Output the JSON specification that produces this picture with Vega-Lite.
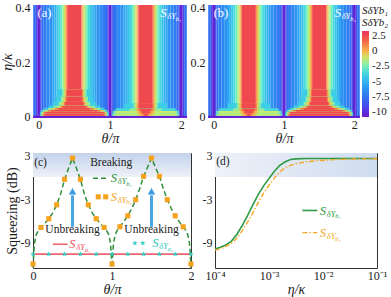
{
"$schema":"https://vega.github.io/schema/vega-lite/v6.json",
"padding":{"left":0,"top":1,"right":0,"bottom":0},
"config":{
 "font":"Liberation Serif",
 "view":{"stroke":null},
 "axis":{"labelFont":"Liberation Serif","titleFont":"Liberation Serif","labelFontSize":12,"titleFontSize":14,"titleFontWeight":"normal","labelColor":"#1a1a1a","titleColor":"#1a1a1a","grid":false,"domain":false,"ticks":false,"labelPadding":3,"titlePadding":1,"labelFlush":false,"labelOverlap":false},
 "axisX":{"labelPadding":1,"titlePadding":1},
 "legend":{"labelFont":"Liberation Serif","titleFont":"Liberation Serif"},
 "text":{"font":"Liberation Serif"}
},
"datasets":{
"base":[
{"a":-0.08,"b":-0.07,"v":-7.2},{"a":-0.07,"b":-0.04,"v":-7.8},{"a":-0.04,"b":-0.02,"v":-9.0},{"a":-0.02,"b":0.02,"v":-10.5},
{"a":0.02,"b":0.04,"v":-9.0},{"a":0.04,"b":0.07,"v":-7.8},{"a":0.07,"b":0.11,"v":-7.2},{"a":0.11,"b":0.15,"v":-6.7},{"a":0.15,"b":0.19,"v":-6.2},{"a":0.19,"b":0.22,"v":-5.6},{"a":0.22,"b":0.25,"v":-5.0},{"a":0.25,"b":0.28,"v":-4.3},{"a":0.28,"b":0.31,"v":-3.5},{"a":0.31,"b":0.335,"v":-2.6},{"a":0.335,"b":0.355,"v":-1.7},{"a":0.355,"b":0.37,"v":-0.9},{"a":0.37,"b":0.385,"v":-0.1},{"a":0.385,"b":0.4,"v":1.0},
{"a":0.4,"b":0.6,"v":2.5},
{"a":0.6,"b":0.615,"v":1.0},{"a":0.615,"b":0.63,"v":-0.1},{"a":0.63,"b":0.645,"v":-0.9},{"a":0.645,"b":0.665,"v":-1.7},{"a":0.665,"b":0.69,"v":-2.6},{"a":0.69,"b":0.72,"v":-3.5},{"a":0.72,"b":0.75,"v":-4.3},{"a":0.75,"b":0.78,"v":-5.0},{"a":0.78,"b":0.81,"v":-5.6},{"a":0.81,"b":0.85,"v":-6.2},{"a":0.85,"b":0.89,"v":-6.7},{"a":0.89,"b":0.93,"v":-7.2},{"a":0.93,"b":0.96,"v":-7.8},{"a":0.96,"b":0.98,"v":-9.0},
{"a":0.98,"b":1.02,"v":-10.5},
{"a":1.02,"b":1.04,"v":-9.0},{"a":1.04,"b":1.07,"v":-7.8},{"a":1.07,"b":1.11,"v":-7.2},{"a":1.11,"b":1.15,"v":-6.7},{"a":1.15,"b":1.19,"v":-6.2},{"a":1.19,"b":1.22,"v":-5.6},{"a":1.22,"b":1.25,"v":-5.0},{"a":1.25,"b":1.28,"v":-4.3},{"a":1.28,"b":1.31,"v":-3.5},{"a":1.31,"b":1.335,"v":-2.6},{"a":1.335,"b":1.355,"v":-1.7},{"a":1.355,"b":1.37,"v":-0.9},{"a":1.37,"b":1.385,"v":-0.1},{"a":1.385,"b":1.4,"v":1.0},
{"a":1.4,"b":1.6,"v":2.5},
{"a":1.6,"b":1.615,"v":1.0},{"a":1.615,"b":1.63,"v":-0.1},{"a":1.63,"b":1.645,"v":-0.9},{"a":1.645,"b":1.665,"v":-1.7},{"a":1.665,"b":1.69,"v":-2.6},{"a":1.69,"b":1.72,"v":-3.5},{"a":1.72,"b":1.75,"v":-4.3},{"a":1.75,"b":1.78,"v":-5.0},{"a":1.78,"b":1.81,"v":-5.6},{"a":1.81,"b":1.85,"v":-6.2},{"a":1.85,"b":1.89,"v":-6.7},{"a":1.89,"b":1.93,"v":-7.2},{"a":1.93,"b":1.96,"v":-7.8},{"a":1.96,"b":1.98,"v":-9.0},
{"a":1.98,"b":2.02,"v":-10.5},
{"a":2.02,"b":2.04,"v":-9.0},{"a":2.04,"b":2.07,"v":-7.8},{"a":2.07,"b":2.08,"v":-7.2}
],
"ova":[
{"a":-0.08,"b":2.08,"lo":-0.004,"hi":0.004,"v":-10.5},
{"a":0.015,"b":0.985,"lo":0.004,"hi":0.012,"v":-4},{"a":0.03,"b":0.97,"lo":0.004,"hi":0.012,"v":-2},{"a":0.045,"b":0.955,"lo":0.004,"hi":0.012,"v":-0.5},{"a":0.06,"b":0.94,"lo":0.004,"hi":0.012,"v":1.2},{"a":0.08,"b":0.92,"lo":0.004,"hi":0.012,"v":2.5},
{"a":0.02,"b":0.98,"lo":0.012,"hi":0.02,"v":-4},{"a":0.035,"b":0.965,"lo":0.012,"hi":0.02,"v":-2},{"a":0.05,"b":0.95,"lo":0.012,"hi":0.02,"v":-0.5},{"a":0.07,"b":0.93,"lo":0.012,"hi":0.02,"v":1.2},{"a":0.09,"b":0.91,"lo":0.012,"hi":0.02,"v":2.5},
{"a":0.04,"b":0.96,"lo":0.02,"hi":0.026,"v":-4},{"a":0.06,"b":0.94,"lo":0.02,"hi":0.026,"v":-2},{"a":0.09,"b":0.91,"lo":0.02,"hi":0.026,"v":-0.5},{"a":0.13,"b":0.87,"lo":0.02,"hi":0.026,"v":1.2},{"a":0.17,"b":0.83,"lo":0.02,"hi":0.026,"v":2.5},
{"a":0.08,"b":0.92,"lo":0.026,"hi":0.033,"v":-4},{"a":0.13,"b":0.87,"lo":0.026,"hi":0.033,"v":-2},{"a":0.18,"b":0.82,"lo":0.026,"hi":0.033,"v":-0.5},{"a":0.23,"b":0.77,"lo":0.026,"hi":0.033,"v":1.2},{"a":0.28,"b":0.72,"lo":0.026,"hi":0.033,"v":2.5},
{"a":0.14,"b":0.86,"lo":0.033,"hi":0.042,"v":-4},{"a":0.21,"b":0.79,"lo":0.033,"hi":0.042,"v":-2},{"a":0.27,"b":0.73,"lo":0.033,"hi":0.042,"v":-0.5},{"a":0.31,"b":0.69,"lo":0.033,"hi":0.042,"v":1.2},{"a":0.34,"b":0.66,"lo":0.033,"hi":0.042,"v":2.5},
{"a":0.2,"b":0.8,"lo":0.042,"hi":0.055,"v":-4},{"a":0.28,"b":0.72,"lo":0.042,"hi":0.055,"v":-2},{"a":0.32,"b":0.68,"lo":0.042,"hi":0.055,"v":-0.5},{"a":0.355,"b":0.645,"lo":0.042,"hi":0.055,"v":1.2},{"a":0.37,"b":0.63,"lo":0.042,"hi":0.055,"v":2.5},
{"a":0.24,"b":0.76,"lo":0.055,"hi":0.075,"v":-4},{"a":0.31,"b":0.69,"lo":0.055,"hi":0.075,"v":-2},{"a":0.345,"b":0.655,"lo":0.055,"hi":0.075,"v":-0.5},{"a":0.375,"b":0.625,"lo":0.055,"hi":0.075,"v":1.2},{"a":0.39,"b":0.61,"lo":0.055,"hi":0.075,"v":2.5},
{"a":0.26,"b":0.74,"lo":0.075,"hi":0.1,"v":-4},{"a":0.33,"b":0.67,"lo":0.075,"hi":0.1,"v":-2},{"a":0.36,"b":0.64,"lo":0.075,"hi":0.1,"v":-0.5},{"a":0.38,"b":0.62,"lo":0.075,"hi":0.1,"v":1.2},{"a":0.395,"b":0.605,"lo":0.075,"hi":0.1,"v":2.5},
{"a":1.03,"b":1.97,"lo":0.004,"hi":0.012,"v":-2.5},{"a":1.06,"b":1.94,"lo":0.004,"hi":0.012,"v":-1.2},{"a":1.4,"b":1.6,"lo":0.004,"hi":0.012,"v":0},{"a":1.45,"b":1.55,"lo":0.004,"hi":0.012,"v":1.2},{"a":1.48,"b":1.52,"lo":0.004,"hi":0.012,"v":2.5},
{"a":1.04,"b":1.96,"lo":0.012,"hi":0.022,"v":-2.5},{"a":1.08,"b":1.92,"lo":0.012,"hi":0.022,"v":-1.2},{"a":1.38,"b":1.62,"lo":0.012,"hi":0.022,"v":0},{"a":1.42,"b":1.58,"lo":0.012,"hi":0.022,"v":1.2},{"a":1.445,"b":1.555,"lo":0.012,"hi":0.022,"v":2.5},
{"a":1.08,"b":1.92,"lo":0.022,"hi":0.032,"v":-3.5},{"a":1.28,"b":1.72,"lo":0.022,"hi":0.032,"v":-1.8},{"a":1.36,"b":1.64,"lo":0.022,"hi":0.032,"v":-0.3},{"a":1.39,"b":1.61,"lo":0.022,"hi":0.032,"v":1.2},{"a":1.42,"b":1.58,"lo":0.022,"hi":0.032,"v":2.5},
{"a":1.2,"b":1.8,"lo":0.032,"hi":0.05,"v":-4},{"a":1.33,"b":1.67,"lo":0.032,"hi":0.05,"v":-2},{"a":1.36,"b":1.64,"lo":0.032,"hi":0.05,"v":-0.5},{"a":1.385,"b":1.615,"lo":0.032,"hi":0.05,"v":1.2},{"a":1.405,"b":1.595,"lo":0.032,"hi":0.05,"v":2.5}
],
"ovb":[
{"a":-0.08,"b":2.08,"lo":-0.004,"hi":0.004,"v":-10.5},
{"a":1.015,"b":1.985,"lo":0.004,"hi":0.012,"v":-4},{"a":1.03,"b":1.97,"lo":0.004,"hi":0.012,"v":-2},{"a":1.045,"b":1.955,"lo":0.004,"hi":0.012,"v":-0.5},{"a":1.06,"b":1.94,"lo":0.004,"hi":0.012,"v":1.2},{"a":1.08,"b":1.92,"lo":0.004,"hi":0.012,"v":2.5},
{"a":1.02,"b":1.98,"lo":0.012,"hi":0.02,"v":-4},{"a":1.035,"b":1.965,"lo":0.012,"hi":0.02,"v":-2},{"a":1.05,"b":1.95,"lo":0.012,"hi":0.02,"v":-0.5},{"a":1.07,"b":1.93,"lo":0.012,"hi":0.02,"v":1.2},{"a":1.09,"b":1.91,"lo":0.012,"hi":0.02,"v":2.5},
{"a":1.04,"b":1.96,"lo":0.02,"hi":0.026,"v":-4},{"a":1.06,"b":1.94,"lo":0.02,"hi":0.026,"v":-2},{"a":1.09,"b":1.91,"lo":0.02,"hi":0.026,"v":-0.5},{"a":1.13,"b":1.87,"lo":0.02,"hi":0.026,"v":1.2},{"a":1.17,"b":1.83,"lo":0.02,"hi":0.026,"v":2.5},
{"a":1.08,"b":1.92,"lo":0.026,"hi":0.033,"v":-4},{"a":1.13,"b":1.87,"lo":0.026,"hi":0.033,"v":-2},{"a":1.18,"b":1.82,"lo":0.026,"hi":0.033,"v":-0.5},{"a":1.23,"b":1.77,"lo":0.026,"hi":0.033,"v":1.2},{"a":1.28,"b":1.72,"lo":0.026,"hi":0.033,"v":2.5},
{"a":1.14,"b":1.86,"lo":0.033,"hi":0.042,"v":-4},{"a":1.21,"b":1.79,"lo":0.033,"hi":0.042,"v":-2},{"a":1.27,"b":1.73,"lo":0.033,"hi":0.042,"v":-0.5},{"a":1.31,"b":1.69,"lo":0.033,"hi":0.042,"v":1.2},{"a":1.34,"b":1.66,"lo":0.033,"hi":0.042,"v":2.5},
{"a":1.2,"b":1.8,"lo":0.042,"hi":0.055,"v":-4},{"a":1.28,"b":1.72,"lo":0.042,"hi":0.055,"v":-2},{"a":1.32,"b":1.68,"lo":0.042,"hi":0.055,"v":-0.5},{"a":1.355,"b":1.645,"lo":0.042,"hi":0.055,"v":1.2},{"a":1.37,"b":1.63,"lo":0.042,"hi":0.055,"v":2.5},
{"a":1.24,"b":1.76,"lo":0.055,"hi":0.075,"v":-4},{"a":1.31,"b":1.69,"lo":0.055,"hi":0.075,"v":-2},{"a":1.345,"b":1.655,"lo":0.055,"hi":0.075,"v":-0.5},{"a":1.375,"b":1.625,"lo":0.055,"hi":0.075,"v":1.2},{"a":1.39,"b":1.61,"lo":0.055,"hi":0.075,"v":2.5},
{"a":1.26,"b":1.74,"lo":0.075,"hi":0.1,"v":-4},{"a":1.33,"b":1.67,"lo":0.075,"hi":0.1,"v":-2},{"a":1.36,"b":1.64,"lo":0.075,"hi":0.1,"v":-0.5},{"a":1.38,"b":1.62,"lo":0.075,"hi":0.1,"v":1.2},{"a":1.395,"b":1.605,"lo":0.075,"hi":0.1,"v":2.5},
{"a":0.03,"b":0.97,"lo":0.004,"hi":0.012,"v":-2.5},{"a":0.06,"b":0.94,"lo":0.004,"hi":0.012,"v":-1.2},{"a":0.4,"b":0.6,"lo":0.004,"hi":0.012,"v":0},{"a":0.45,"b":0.55,"lo":0.004,"hi":0.012,"v":1.2},{"a":0.48,"b":0.52,"lo":0.004,"hi":0.012,"v":2.5},
{"a":0.04,"b":0.96,"lo":0.012,"hi":0.022,"v":-2.5},{"a":0.08,"b":0.92,"lo":0.012,"hi":0.022,"v":-1.2},{"a":0.38,"b":0.62,"lo":0.012,"hi":0.022,"v":0},{"a":0.42,"b":0.58,"lo":0.012,"hi":0.022,"v":1.2},{"a":0.445,"b":0.555,"lo":0.012,"hi":0.022,"v":2.5},
{"a":0.08,"b":0.92,"lo":0.022,"hi":0.032,"v":-3.5},{"a":0.28,"b":0.72,"lo":0.022,"hi":0.032,"v":-1.8},{"a":0.36,"b":0.64,"lo":0.022,"hi":0.032,"v":-0.3},{"a":0.39,"b":0.61,"lo":0.022,"hi":0.032,"v":1.2},{"a":0.42,"b":0.58,"lo":0.022,"hi":0.032,"v":2.5},
{"a":0.2,"b":0.8,"lo":0.032,"hi":0.05,"v":-4},{"a":0.33,"b":0.67,"lo":0.032,"hi":0.05,"v":-2},{"a":0.36,"b":0.64,"lo":0.032,"hi":0.05,"v":-0.5},{"a":0.385,"b":0.615,"lo":0.032,"hi":0.05,"v":1.2},{"a":0.405,"b":0.595,"lo":0.032,"hi":0.05,"v":2.5}
]
},
"spacing":3,
"resolve":{"scale":{"color":"independent"}},
"vconcat":[
{"hconcat":[
 {"width":154,"height":113,
  "layer":[
   {"data":{"name":"base"},"mark":{"type":"rect"},
    "encoding":{
     "x":{"field":"a","type":"quantitative","scale":{"domain":[-0.08,2.08],"nice":false,"zero":false},"axis":{"values":[0,0.5,1,1.5,2],"labelExpr":"''+datum.value","title":"θ/π","titleFontStyle":"italic"}},
     "x2":{"field":"b"},
     "color":{"field":"v","type":"quantitative","scale":{"type":"linear","domain":[-10.9,-10,-8.75,-7.5,-6.25,-5,-3.75,-2.5,-1.25,0,1.25,2.5,3.4],"range":["#6a1bc9","#5b2ee0","#3f55ec","#2f74f2","#2d93f3","#35b3ef","#3fd4e2","#6ff0bd","#c4ee6e","#f6b54c","#f57e48","#f0484f","#e8365c"],"interpolate":"rgb"},"legend":null}
    }},
   {"data":{"name":"ova"},"mark":{"type":"rect"},
    "encoding":{
     "x":{"field":"a","type":"quantitative"},
     "x2":{"field":"b"},
     "y":{"field":"lo","type":"quantitative","scale":{"domain":[-0.004,0.408],"nice":false,"zero":false},"axis":{"values":[0,0.2,0.4],"labelExpr":"''+datum.value","title":"η/κ","titleFontStyle":"italic"}},
     "y2":{"field":"hi"},
     "color":{"field":"v","type":"quantitative","legend":null}
    }},
   {"data":{"values":[{"t":0.081,"e":0.378,"txt":"(a)"}]},"mark":{"type":"text","align":"center","baseline":"middle","fontSize":12.5,"color":"white"},"encoding":{"x":{"field":"t","type":"quantitative"},"y":{"field":"e","type":"quantitative"},"text":{"field":"txt"}}},
   {"data":{"values":[{"t":1.705,"e":0.378,"n":"b₁"}]},"mark":{"type":"text","text":"S","align":"left","baseline":"middle","fontSize":13,"fontStyle":"italic","color":"white"},"encoding":{"x":{"field":"t","type":"quantitative"},"y":{"field":"e","type":"quantitative"}}},
   {"data":{"values":[{"t":1.705,"e":0.378,"n":"b₁"}]},"mark":{"type":"text","text":"δY","align":"left","baseline":"middle","fontSize":8.5,"fontStyle":"italic","dx":7,"dy":3,"color":"white"},"encoding":{"x":{"field":"t","type":"quantitative"},"y":{"field":"e","type":"quantitative"}}},
   {"data":{"values":[{"t":1.705,"e":0.378,"n":"b₁"}]},"mark":{"type":"text","align":"left","baseline":"middle","fontSize":6.5,"fontStyle":"italic","dx":15.5,"dy":5.5,"color":"white"},"encoding":{"x":{"field":"t","type":"quantitative"},"y":{"field":"e","type":"quantitative"},"text":{"field":"n"}}}
  ]},
 {"width":152,"height":113,
  "layer":[
   {"data":{"name":"base"},"mark":{"type":"rect"},
    "encoding":{
     "x":{"field":"a","type":"quantitative","scale":{"domain":[-0.08,2.08],"nice":false,"zero":false},"axis":{"values":[0,0.5,1,1.5,2],"labelExpr":"''+datum.value","title":"θ/π","titleFontStyle":"italic"}},
     "x2":{"field":"b"},
     "color":{"field":"v","type":"quantitative","scale":{"type":"linear","domain":[-10.9,-10,-8.75,-7.5,-6.25,-5,-3.75,-2.5,-1.25,0,1.25,2.5,3.4],"range":["#6a1bc9","#5b2ee0","#3f55ec","#2f74f2","#2d93f3","#35b3ef","#3fd4e2","#6ff0bd","#c4ee6e","#f6b54c","#f57e48","#f0484f","#e8365c"],"interpolate":"rgb"},
      "legend":{"type":"gradient","title":["SδYb₁","SδYb₂"],"values":[2.5,0,-2.5,-5,-7.5,-10],"labelExpr":"''+datum.value","direction":"vertical","orient":"right","gradientLength":86,"gradientThickness":7,"gradientStrokeWidth":0,"titleFontSize":11,"titleFontStyle":"italic","titleFontWeight":"normal","titleLineHeight":12,"titlePadding":3,"titleColor":"#1a1a1a","labelFontSize":11,"labelColor":"#1a1a1a","labelOffset":3,"offset":2,"padding":0}}
    }},
   {"data":{"name":"ovb"},"mark":{"type":"rect"},
    "encoding":{
     "x":{"field":"a","type":"quantitative"},
     "x2":{"field":"b"},
     "y":{"field":"lo","type":"quantitative","scale":{"domain":[-0.004,0.408],"nice":false,"zero":false},"axis":{"values":[0,0.2,0.4],"labelExpr":"''+datum.value","title":null}},
     "y2":{"field":"hi"},
     "color":{"field":"v","type":"quantitative"}
    }},
   {"data":{"values":[{"t":0.104,"e":0.378,"txt":"(b)"}]},"mark":{"type":"text","align":"center","baseline":"middle","fontSize":12.5,"color":"white"},"encoding":{"x":{"field":"t","type":"quantitative"},"y":{"field":"e","type":"quantitative"},"text":{"field":"txt"}}},
   {"data":{"values":[{"t":1.72,"e":0.378,"n":"b₂"}]},"mark":{"type":"text","text":"S","align":"left","baseline":"middle","fontSize":13,"fontStyle":"italic","color":"white"},"encoding":{"x":{"field":"t","type":"quantitative"},"y":{"field":"e","type":"quantitative"}}},
   {"data":{"values":[{"t":1.72,"e":0.378,"n":"b₂"}]},"mark":{"type":"text","text":"δY","align":"left","baseline":"middle","fontSize":8.5,"fontStyle":"italic","dx":7,"dy":3,"color":"white"},"encoding":{"x":{"field":"t","type":"quantitative"},"y":{"field":"e","type":"quantitative"}}},
   {"data":{"values":[{"t":1.72,"e":0.378,"n":"b₂"}]},"mark":{"type":"text","align":"left","baseline":"middle","fontSize":6.5,"fontStyle":"italic","dx":15.5,"dy":5.5,"color":"white"},"encoding":{"x":{"field":"t","type":"quantitative"},"y":{"field":"e","type":"quantitative"},"text":{"field":"n"}}}
  ]}
 ],
 "spacing":3,
 "resolve":{"scale":{"color":"independent"}}
},
{"hconcat":[
 {"width":158,"height":115,
  "view":{"stroke":"#333","strokeWidth":1},
  "layer":[
   {"data":{"values":[{"lo":0,"hi":3.3}]},"mark":{"type":"rect","color":{"gradient":"linear","x1":0,"y1":0,"x2":0,"y2":1,"stops":[{"offset":0,"color":"#c3d2ea"},{"offset":1,"color":"#eef2f9"}]}},
    "encoding":{"y":{"field":"lo","type":"quantitative","scale":{"domain":[-12.45,3.3],"nice":false,"zero":false},"axis":{"values":[-9,-6,-3,0,3],"labelExpr":"''+datum.value","title":"Squeezing (dB)"}},"y2":{"field":"hi"}}},
   {"data":{"values":[{"t":0,"s":-10.55,"g":"m"},{"t":2,"s":-10.55,"g":"m"},{"t":0.25,"s":-9.2,"g":"l"},{"t":0.44,"s":-9.2,"g":"l"}]},
    "mark":{"type":"line","color":"#f2646e","strokeWidth":1.6},
    "encoding":{"x":{"field":"t","type":"quantitative","scale":{"domain":[0,2],"nice":false,"zero":false},"axis":{"values":[0,0.5,1,1.5,2],"labelExpr":"''+datum.value","title":"θ/π","titleFontStyle":"italic","labelPadding":2}},"y":{"field":"s","type":"quantitative"},"detail":{"field":"g"}}},
   {"data":{"values":[
     {"t":0,"s":-12.4,"g":"m"},{"t":0.01,"s":-10.3,"g":"m"},{"t":0.02,"s":-9.0,"g":"m"},{"t":0.04,"s":-7.9,"g":"m"},{"t":0.07,"s":-7.3,"g":"m"},{"t":0.1,"s":-6.9,"g":"m"},{"t":0.15,"s":-6.35,"g":"m"},{"t":0.2,"s":-5.7,"g":"m"},{"t":0.25,"s":-4.9,"g":"m"},{"t":0.3,"s":-3.8,"g":"m"},{"t":0.35,"s":-2.3,"g":"m"},{"t":0.4,"s":-0.3,"g":"m"},{"t":0.45,"s":1.2,"g":"m"},{"t":0.5,"s":2.6,"g":"m"},
     {"t":0.55,"s":1.2,"g":"m"},{"t":0.6,"s":-0.3,"g":"m"},{"t":0.65,"s":-2.3,"g":"m"},{"t":0.7,"s":-3.8,"g":"m"},{"t":0.75,"s":-4.9,"g":"m"},{"t":0.8,"s":-5.7,"g":"m"},{"t":0.85,"s":-6.35,"g":"m"},{"t":0.9,"s":-6.9,"g":"m"},{"t":0.93,"s":-7.3,"g":"m"},{"t":0.96,"s":-7.9,"g":"m"},{"t":0.98,"s":-9.0,"g":"m"},{"t":0.99,"s":-10.3,"g":"m"},{"t":1.0,"s":-12.4,"g":"m"},
     {"t":1.01,"s":-10.3,"g":"m"},{"t":1.02,"s":-9.0,"g":"m"},{"t":1.04,"s":-7.9,"g":"m"},{"t":1.07,"s":-7.2,"g":"m"},{"t":1.1,"s":-6.8,"g":"m"},{"t":1.15,"s":-6.1,"g":"m"},{"t":1.2,"s":-5.3,"g":"m"},{"t":1.25,"s":-4.3,"g":"m"},{"t":1.3,"s":-3.1,"g":"m"},{"t":1.35,"s":-1.6,"g":"m"},{"t":1.4,"s":0.1,"g":"m"},{"t":1.45,"s":1.35,"g":"m"},{"t":1.5,"s":2.6,"g":"m"},
     {"t":1.55,"s":1.35,"g":"m"},{"t":1.6,"s":0.1,"g":"m"},{"t":1.65,"s":-1.6,"g":"m"},{"t":1.7,"s":-3.1,"g":"m"},{"t":1.75,"s":-4.3,"g":"m"},{"t":1.8,"s":-5.3,"g":"m"},{"t":1.85,"s":-6.1,"g":"m"},{"t":1.9,"s":-6.8,"g":"m"},{"t":1.93,"s":-7.2,"g":"m"},{"t":1.96,"s":-7.9,"g":"m"},{"t":1.98,"s":-9.0,"g":"m"},{"t":1.99,"s":-10.3,"g":"m"},{"t":2.0,"s":-12.4,"g":"m"},
     {"t":0.76,"s":-0.15,"g":"l"},{"t":0.955,"s":-0.15,"g":"l"}]},
    "mark":{"type":"line","color":"#2e8f3c","strokeWidth":1.5,"strokeDash":[5,3]},
    "encoding":{"x":{"field":"t","type":"quantitative"},"y":{"field":"s","type":"quantitative"},"detail":{"field":"g"}}},
   {"data":{"values":[
     {"t":0,"s":-11.9},{"t":0.1,"s":-6.9},{"t":0.2,"s":-5.7},{"t":0.3,"s":-3.8},{"t":0.4,"s":-0.3},{"t":0.5,"s":2.6},{"t":0.6,"s":-0.3},{"t":0.7,"s":-3.8},{"t":0.8,"s":-5.7},{"t":0.9,"s":-6.9},{"t":1.0,"s":-11.9},
     {"t":1.1,"s":-6.8},{"t":1.2,"s":-5.3},{"t":1.3,"s":-3.1},{"t":1.4,"s":0.1},{"t":1.5,"s":2.6},{"t":1.6,"s":0.1},{"t":1.7,"s":-3.1},{"t":1.8,"s":-5.3},{"t":1.9,"s":-6.8},{"t":2.0,"s":-11.9},
     {"t":0.826,"s":-2.7},{"t":0.92,"s":-2.7}]},
    "mark":{"type":"point","shape":"square","filled":true,"size":26,"color":"#f5a21d","opacity":1},
    "encoding":{"x":{"field":"t","type":"quantitative"},"y":{"field":"s","type":"quantitative"}}},
   {"data":{"values":[
     {"t":0,"s":-10.55},{"t":0.2,"s":-10.55},{"t":0.4,"s":-10.55},{"t":0.6,"s":-10.55},{"t":0.8,"s":-10.55},{"t":1.0,"s":-10.55},{"t":1.2,"s":-10.55},{"t":1.4,"s":-10.55},{"t":1.6,"s":-10.55},{"t":1.8,"s":-10.55},{"t":2.0,"s":-10.55},
     {"t":1.29,"s":-9.05},{"t":1.39,"s":-9.05}]},
    "mark":{"type":"point","shape":"M0,-1L0.235,-0.324L0.951,-0.309L0.38,0.124L0.588,0.809L0,0.4L-0.588,0.809L-0.38,0.124L-0.951,-0.309L-0.235,-0.324Z","filled":true,"size":36,"color":"#2dd0c2","opacity":1},
    "encoding":{"x":{"field":"t","type":"quantitative"},"y":{"field":"s","type":"quantitative"}}},
   {"data":{"values":[{"t":0.5,"lo":-6.8,"hi":-2.5},{"t":1.5,"lo":-6.8,"hi":-2.5}]},
    "mark":{"type":"rule","color":"#4aa6e4","strokeWidth":3},
    "encoding":{"x":{"field":"t","type":"quantitative"},"y":{"field":"lo","type":"quantitative"},"y2":{"field":"hi"}}},
   {"data":{"values":[{"t":0.5,"s":-1.95},{"t":1.5,"s":-1.95}]},
    "mark":{"type":"point","shape":"triangle-up","filled":true,"size":55,"color":"#3a98dc","opacity":1},
    "encoding":{"x":{"field":"t","type":"quantitative"},"y":{"field":"s","type":"quantitative"}}},
   {"data":{"values":[{"t":0.095,"s":1.95,"txt":"(c)"},{"t":0.99,"s":1.95,"txt":"Breaking"},{"t":0.5,"s":-7.3,"txt":"Unbreaking"},{"t":1.5,"s":-7.3,"txt":"Unbreaking"}]},
    "mark":{"type":"text","align":"center","baseline":"middle","fontSize":11.5,"color":"#222"},
    "encoding":{"x":{"field":"t","type":"quantitative"},"y":{"field":"s","type":"quantitative"},"text":{"field":"txt"}}},
   {"data":{"values":[{"t":0.985,"s":-0.15,"k":"g","n":"b₁"},{"t":0.985,"s":-2.7,"k":"o","n":"b₂"},{"t":0.46,"s":-9.2,"k":"r","n":"a₁"},{"t":1.51,"s":-9.05,"k":"t","n":"a₂"}]},
    "mark":{"type":"text","text":"S","align":"left","baseline":"middle","fontSize":12.5,"fontStyle":"italic"},
    "encoding":{"x":{"field":"t","type":"quantitative"},"y":{"field":"s","type":"quantitative"},"color":{"field":"k","type":"nominal","scale":{"domain":["g","o","r","t"],"range":["#2e8f3c","#f5a21d","#ef4f5c","#2cc9bd"]},"legend":null}}},
   {"data":{"values":[{"t":0.985,"s":-0.15,"k":"g","n":"b₁"},{"t":0.985,"s":-2.7,"k":"o","n":"b₂"},{"t":0.46,"s":-9.2,"k":"r","n":"a₁"},{"t":1.51,"s":-9.05,"k":"t","n":"a₂"}]},
    "mark":{"type":"text","text":"δY","align":"left","baseline":"middle","fontSize":8.5,"fontStyle":"italic","dx":7,"dy":3},
    "encoding":{"x":{"field":"t","type":"quantitative"},"y":{"field":"s","type":"quantitative"},"color":{"field":"k","type":"nominal","legend":null}}},
   {"data":{"values":[{"t":0.985,"s":-0.15,"k":"g","n":"b₁"},{"t":0.985,"s":-2.7,"k":"o","n":"b₂"},{"t":0.46,"s":-9.2,"k":"r","n":"a₁"},{"t":1.51,"s":-9.05,"k":"t","n":"a₂"}]},
    "mark":{"type":"text","align":"left","baseline":"middle","fontSize":6.5,"fontStyle":"italic","dx":15.5,"dy":5.5},
    "encoding":{"x":{"field":"t","type":"quantitative"},"y":{"field":"s","type":"quantitative"},"text":{"field":"n"},"color":{"field":"k","type":"nominal","legend":null}}}
  ]},
 {"width":162,"height":115,
  "view":{"stroke":"#333","strokeWidth":1},
  "layer":[
   {"data":{"values":[{"lo":0,"hi":3.3}]},"mark":{"type":"rect","color":{"gradient":"linear","x1":0,"y1":0,"x2":1,"y2":0,"stops":[{"offset":0,"color":"#eef2f9"},{"offset":1,"color":"#cfdcef"}]}},
    "encoding":{"y":{"field":"lo","type":"quantitative","scale":{"domain":[-12.45,3.3],"nice":false,"zero":false},"axis":{"values":[-9,-6,-3,0,3],"labelExpr":"''+datum.value","title":null}},"y2":{"field":"hi"}}},
   {"data":{"values":[
     {"x":0.0001,"s":-9.85,"g":"m"},{"x":0.000126,"s":-9.6,"g":"m"},{"x":0.000158,"s":-9.3,"g":"m"},{"x":0.0002,"s":-8.8,"g":"m"},{"x":0.000251,"s":-7.9,"g":"m"},{"x":0.000316,"s":-6.7,"g":"m"},{"x":0.000398,"s":-5.3,"g":"m"},{"x":0.000501,"s":-3.8,"g":"m"},{"x":0.000631,"s":-2.4,"g":"m"},{"x":0.000794,"s":-1.2,"g":"m"},{"x":0.001,"s":-0.2,"g":"m"},{"x":0.00126,"s":0.8,"g":"m"},{"x":0.00158,"s":1.6,"g":"m"},{"x":0.002,"s":2.1,"g":"m"},{"x":0.00251,"s":2.4,"g":"m"},{"x":0.00316,"s":2.5,"g":"m"},{"x":0.005,"s":2.55,"g":"m"},{"x":0.01,"s":2.55,"g":"m"},{"x":0.1,"s":2.55,"g":"m"},
     {"x":0.00416,"s":-4.57,"g":"l"},{"x":0.00783,"s":-4.57,"g":"l"}]},
    "mark":{"type":"line","color":"#2f9a47","strokeWidth":1.6},
    "encoding":{"x":{"field":"x","type":"quantitative","scale":{"type":"log","domain":[0.0001,0.1],"nice":false},"axis":{"values":[0.0001,0.001,0.01,0.1],"labelExpr":"datum.value<0.0005?'10⁻⁴':datum.value<0.005?'10⁻³':datum.value<0.05?'10⁻²':'10⁻¹'","title":"η/κ","titleFontStyle":"italic","labelPadding":2}},"y":{"field":"s","type":"quantitative"},"detail":{"field":"g"}}},
   {"data":{"values":[
     {"x":0.0001,"s":-10.0,"g":"m"},{"x":0.000126,"s":-9.8,"g":"m"},{"x":0.000158,"s":-9.5,"g":"m"},{"x":0.0002,"s":-9.1,"g":"m"},{"x":0.000251,"s":-8.4,"g":"m"},{"x":0.000316,"s":-7.4,"g":"m"},{"x":0.000398,"s":-6.2,"g":"m"},{"x":0.000501,"s":-4.9,"g":"m"},{"x":0.000631,"s":-3.5,"g":"m"},{"x":0.000794,"s":-2.2,"g":"m"},{"x":0.001,"s":-1.1,"g":"m"},{"x":0.00126,"s":-0.1,"g":"m"},{"x":0.00158,"s":0.7,"g":"m"},{"x":0.002,"s":1.3,"g":"m"},{"x":0.00251,"s":1.6,"g":"m"},{"x":0.00316,"s":1.85,"g":"m"},{"x":0.005,"s":2.1,"g":"m"},{"x":0.00794,"s":2.25,"g":"m"},{"x":0.0126,"s":2.35,"g":"m"},{"x":0.0251,"s":2.45,"g":"m"},{"x":0.05,"s":2.5,"g":"m"},{"x":0.1,"s":2.52,"g":"m"},
     {"x":0.00416,"s":-7.6,"g":"l"},{"x":0.00783,"s":-7.6,"g":"l"}]},
    "mark":{"type":"line","color":"#f5a623","strokeWidth":1.4,"strokeDash":[5,2,1.5,2]},
    "encoding":{"x":{"field":"x","type":"quantitative"},"y":{"field":"s","type":"quantitative"},"detail":{"field":"g"}}},
   {"data":{"values":[{"x":0.00014,"s":2.0,"txt":"(d)"}]},
    "mark":{"type":"text","align":"center","baseline":"middle","fontSize":11.5,"color":"#222"},
    "encoding":{"x":{"field":"x","type":"quantitative"},"y":{"field":"s","type":"quantitative"},"text":{"field":"txt"}}},
   {"data":{"values":[{"x":0.0087,"s":-4.6,"k":"g","n":"b₁"},{"x":0.0087,"s":-7.7,"k":"o","n":"b₂"}]},
    "mark":{"type":"text","text":"S","align":"left","baseline":"middle","fontSize":12.5,"fontStyle":"italic"},
    "encoding":{"x":{"field":"x","type":"quantitative"},"y":{"field":"s","type":"quantitative"},"color":{"field":"k","type":"nominal","scale":{"domain":["g","o"],"range":["#2f9a47","#f5a623"]},"legend":null}}},
   {"data":{"values":[{"x":0.0087,"s":-4.6,"k":"g","n":"b₁"},{"x":0.0087,"s":-7.7,"k":"o","n":"b₂"}]},
    "mark":{"type":"text","text":"δY","align":"left","baseline":"middle","fontSize":8.5,"fontStyle":"italic","dx":7,"dy":3},
    "encoding":{"x":{"field":"x","type":"quantitative"},"y":{"field":"s","type":"quantitative"},"color":{"field":"k","type":"nominal","legend":null}}},
   {"data":{"values":[{"x":0.0087,"s":-4.6,"k":"g","n":"b₁"},{"x":0.0087,"s":-7.7,"k":"o","n":"b₂"}]},
    "mark":{"type":"text","align":"left","baseline":"middle","fontSize":6.5,"fontStyle":"italic","dx":15.5,"dy":5.5},
    "encoding":{"x":{"field":"x","type":"quantitative"},"y":{"field":"s","type":"quantitative"},"text":{"field":"n"},"color":{"field":"k","type":"nominal","legend":null}}}
  ]}
 ],
 "spacing":6,
 "resolve":{"scale":{"color":"independent"}}
}
]
}
